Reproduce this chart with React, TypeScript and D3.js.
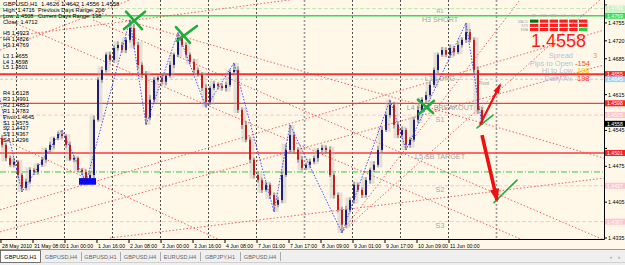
import React from 'react';
import * as d3 from 'd3';

// ---------- DATA (prices in 1/10000 units) ----------
const firstOpen = 14530;
const closes = [
  14517, 14491, 14478, 14484, 14458, 14433,
  14445, 14468, 14464, 14478, 14488, 14507, 14517, 14530, 14538, 14534,
  14517, 14488, 14491, 14468, 14464, 14452, 14458,
  14566, 14644,
  14663, 14693, 14683, 14706, 14712, 14702, 14722, 14745, 14712,
  14673, 14654, 14570, 14605, 14644, 14648, 14640, 14652,
  14673, 14693, 14726, 14712,
  14693, 14679, 14663, 14654, 14628, 14600,
  14628, 14636, 14632, 14628, 14634, 14659, 14663,
  14585, 14556, 14527, 14488, 14458, 14448, 14429, 14439, 14419, 14400, 14409,
  14458, 14507, 14536, 14507,
  14488, 14472, 14478, 14484, 14491, 14507, 14511, 14507,
  14458, 14419, 14390, 14361,
  14390, 14409, 14439, 14429, 14419, 14448,
  14468, 14478, 14507, 14546, 14575, 14595,
  14556, 14536, 14546, 14517, 14527,
  14566, 14585, 14605, 14614, 14634, 14663, 14693, 14702, 14693, 14706, 14698, 14712, 14722, 14737, 14722,
  14663, 14585, 14558,
];
const wickUp = [
  6, 4, 5, 7, 3, 4, 6, 5, 4, 3,
  5, 4, 6, 3, 5, 8, 4, 6, 5, 3,
  4, 5, 6, 8, 5, 7, 4, 6, 5, 7,
  6, 5, 16, 8, 6, 5, 7, 9, 5, 4,
  6, 5, 7, 4, 10, 6, 5, 4, 6, 5,
  5, 7, 4, 6, 3, 5, 6, 5, 14, 7,
  5, 8, 6, 4, 7, 5, 6, 4, 5, 6,
  8, 12, 20, 6, 5, 7, 4, 6, 5, 4,
  6, 5, 7, 4, 5, 6, 8, 5, 6, 4,
  5, 6, 4, 7, 8, 6, 5, 10, 6, 5,
  7, 4, 5, 6, 8, 5, 7, 6, 5, 4,
  6, 5, 7, 4, 6, 5, 18, 6, 5, 7,
  6,
];
const wickDn = [
  5, 6, 4, 5, 7, 8, 5, 4, 6, 5,
  4, 6, 5, 7, 4, 5, 6, 3, 5, 4,
  6, 9, 5, 7, 4, 6, 5, 4, 6, 5,
  4, 6, 5, 7, 8, 6, 14, 5, 6, 4,
  5, 7, 4, 6, 5, 4, 6, 5, 7, 4,
  6, 10, 5, 4, 6, 5, 7, 4, 5, 6,
  8, 5, 6, 7, 5, 6, 4, 8, 14, 5,
  6, 4, 5, 7, 6, 5, 4, 6, 5, 7,
  5, 6, 4, 7, 5, 16, 6, 5, 7, 4,
  6, 5, 7, 4, 5, 6, 4, 5, 7, 6,
  5, 10, 6, 4, 7, 5, 6, 4, 5, 6,
  4, 5, 6, 7, 4, 5, 6, 5, 7, 8,
  2,
];
const zigzagLead: [number, number] = [-2, 14655];
const zigzagPivots: [number, string][] = [
  [5, 'L'], [15, 'H'], [21, 'L'], [32, 'H'], [36, 'L'], [44, 'H'], [51, 'L'], [58, 'H'],
  [68, 'L'], [72, 'H'], [85, 'L'], [97, 'H'], [101, 'L'], [116, 'H'], [120, 'L'],
];
const levelNames = ['R1', 'H3', 'L3', 'Pivot', 'L4', 'S1', 'L5', 'S2', 'S3'];
const levelPrices = [14783, 14769, 14655, 14645, 14598, 14575, 14501, 14437, 14367];
const levelTexts = ['R1', 'H3 SHORT', 'L3 LONG', '', 'L4 HOT BREAKOUT', 'S1', 'L5 SB TARGET', 'S2', 'S3'];
const guidePrice = 14464;
const currentPrice = 14558;
const yTicks = [14790, 14755, 14720, 14685, 14650, 14615, 14580, 14545, 14510, 14475, 14440, 14405, 14370, 14335];
const xTickBars = [0, 8, 16, 24, 32, 40, 48, 56, 64, 72, 80, 88, 96, 104, 112];
const xTickLabels = ['28 May 2010', '31 May 08:00', '1 Jun 00:00', '1 Jun 16:00', '2 Jun 08:00', '3 Jun 00:00', '3 Jun 16:00', '4 Jun 08:00', '7 Jun 01:00', '7 Jun 17:00', '8 Jun 09:00', '9 Jun 01:00', '9 Jun 17:00', '10 Jun 09:00', '11 Jun 00:00'];
const daySeparators = [4, 16, 28, 40, 52, 64, 88, 100, 112];
const periodSeparators = [76, 124];
const trendLines: [number, number, number, number][] = [
  [13.25, 14800, 150.5, 14491],
  [-0.5, 14767, 130.25, 14331],
  [-0.5, 14530, 54.5, 14331],
  [22.75, 14761, 150.5, 14331],
  [27, 14335, 150.5, 14452],
  [-0.5, 14390, 150.5, 14741],
  [-0.5, 14347, 150.5, 14673],
  [84.75, 14345, 149.5, 14800],
  [84.75, 14345, 129.5, 14800],
  [-0.5, 14726, 72, 14800],
  [-0.5, 14702, 32, 14800],
];
const upArrow: [number, number][] = [[119.5, 14556], [124.5, 14634]];
const downArrow: [number, number][] = [[120, 14536], [123.75, 14409]];
const checkMarks: [number, number][][] = [
  [[118.75, 14550], [122.75, 14575]],
  [[123, 14404], [128.75, 14448]],
];
const crossMarks: [number, number][][] = [
  [[31, 14777], [35, 14743]], [[30.5, 14743], [35.75, 14777]],
  [[43.5, 14747], [47, 14716]], [[43.75, 14720], [48.75, 14749]],
  [[104, 14605], [107.75, 14579]], [[104.25, 14577], [108, 14603]],
];
const blueBox = [19.25, 14452, 23.5, 14439];
const tabNames = ['GBPUSD,H1', 'GBPUSD,H4', 'GBPUSD,H1', 'GBPUSD,H4', 'EURUSD,H4', 'GBPJPY,H1', 'GBPUSD,H4'];
const infoLines = [
  'High: 1.4716', 'Low: 1.4508', 'Close: 1.4712', '',
  'H5 1.4923', 'H4 1.4826', 'H3 1.4769', '',
  'L3 1.4655', 'L4 1.4598', 'L5 1.4501',
];
const infoRight = ['Previous Days Range: 206', 'Current Days Range: 198'];
const pivotLines = ['R4 1.5128', 'R3 1.4991', 'R2 1.4853', 'R1 1.4783', 'Pivot 1.4645', 'S1 1.4575', 'S2 1.4437', 'S3 1.4367', 'S4 1.4296'];
const headerText = 'GBPUSD,H1  1.4626 1.4642 1.4556 1.4558';
const gridRows = ['MACD', 'STR', 'EMA'];
const gridCols = ['M5', 'M15', 'M30', 'H1', 'H4', 'D1'];
const gridSignals = [
  [1, -1, -1, -1, -1, -1],
  [-1, -1, -1, -1, -1, -1],
  [-1, -1, -1, -1, -1, 2],
];
const statNames = ['Spread', 'Pips to Open', 'Hi to Low', 'Daily Av.'];
const statValues = ['3', '-154', '198', '198'];

// ---------- STYLES ----------
const BG = '#fff8e8';
const PLOT_R = 604;
const PLOT_B = 239;
const FONT = '"Liberation Sans", Arial, sans-serif';
const levelStyle: Record<string, { color: string; width: number; dash?: string; tagBg: string; tagFg: string }> = {
  R1: { color: '#bfe8b5', width: 1, dash: '4,2', tagBg: '#c9efc0', tagFg: '#ffffff' },
  H3: { color: '#2ee04e', width: 1.6, tagBg: '#33dd55', tagFg: '#ffffff' },
  L3: { color: '#ff3030', width: 2, tagBg: '#ff2020', tagFg: '#ffffff' },
  Pivot: { color: '#a8d4f0', width: 1, dash: '3,2', tagBg: '#a8d4f0', tagFg: '#ffffff' },
  L4: { color: '#ff3a3a', width: 1.2, tagBg: '#ff2020', tagFg: '#ffffff' },
  S1: { color: '#ffc4cc', width: 1, dash: '4,2', tagBg: '#ffc4cc', tagFg: '#ffffff' },
  L5: { color: '#ff3a3a', width: 1.4, tagBg: '#ff2020', tagFg: '#ffffff' },
  S2: { color: '#ffc4cc', width: 1, dash: '4,2', tagBg: '#ffc4cc', tagFg: '#ffffff' },
  S3: { color: '#ffc4cc', width: 1, dash: '4,2', tagBg: '#ffc4cc', tagFg: '#ffffff' },
};

function arrowHead(p0: [number, number], p1: [number, number], len: number, spread: number) {
  const a = Math.atan2(p1[1] - p0[1], p1[0] - p0[0]);
  const l = [p1[0] - len * Math.cos(a - spread), p1[1] - len * Math.sin(a - spread)];
  const r = [p1[0] - len * Math.cos(a + spread), p1[1] - len * Math.sin(a + spread)];
  const tip = [p1[0] + 2 * Math.cos(a), p1[1] + 2 * Math.sin(a)];
  return `M${tip[0]},${tip[1]}L${l[0]},${l[1]}L${r[0]},${r[1]}Z`;
}

export default function App() {
  const x = d3.scaleLinear().domain([0, 120]).range([2, 482]);
  const y = d3.scaleLinear().domain([14335, 14790]).range([238, 5]);
  const bars = closes.map((c, i) => {
    const o = i === 0 ? firstOpen : closes[i - 1];
    return { i, o, c, h: Math.max(o, c) + wickUp[i], l: Math.min(o, c) - wickDn[i] };
  });
  const ghosts = d3.range(0, bars.length, 2).map((s) => {
    const g = bars.slice(s, s + 2);
    return {
      i: s + (g.length - 1) / 2,
      h: d3.max(g, (b) => b.h) as number,
      l: d3.min(g, (b) => b.l) as number,
    };
  });
  const zz: [number, number][] = [zigzagLead, ...zigzagPivots.map(([i, t]) => [i, t === 'H' ? bars[i].h : bars[i].l] as [number, number])];
  const line = d3.line<[number, number]>().x((d) => x(d[0])).y((d) => y(d[1]));
  const fmt = (p: number) => (p / 10000).toFixed(4);
  const px = (d: [number, number]) => [x(d[0]), y(d[1])] as [number, number];

  const upP = upArrow.map(px);
  const dnP = downArrow.map(px);

  const tags = [
    ...levelNames.map((n, k) => ({ p: levelPrices[k], bg: levelStyle[n].tagBg, fg: levelStyle[n].tagFg })),
    { p: currentPrice, bg: '#000000', fg: '#ffffff' },
  ];
  const TAG_H = 6;
  const visibleTicks = yTicks.filter((t) => tags.every((g) => Math.abs(y(g.p) - y(t)) >= TAG_H + 0.5));

  return (
    <svg width={625} height={265} style={{ position: 'absolute', left: 0, top: 0, fontFamily: FONT }}>
      <defs>
        <clipPath id="plot">
          <rect x={0} y={0} width={PLOT_R} height={PLOT_B} />
        </clipPath>
      </defs>
      <rect x={0} y={0} width={625} height={265} fill={BG} />
      <g clipPath="url(#plot)">
        {daySeparators.map((b) => (
          <line key={'d' + b} x1={x(b) - 1.5} x2={x(b) - 1.5} y1={0} y2={PLOT_B} stroke="#222" strokeWidth={0.8} strokeDasharray="2,2" />
        ))}
        {periodSeparators.map((b) => (
          <line key={'p' + b} x1={x(b) - 1.5} x2={x(b) - 1.5} y1={0} y2={PLOT_B} stroke="#999" strokeWidth={1.6} strokeDasharray="2,2" />
        ))}
        {levelNames.map((n, k) => (
          <line key={n} x1={0} x2={PLOT_R} y1={y(levelPrices[k])} y2={y(levelPrices[k])} stroke={levelStyle[n].color} strokeWidth={levelStyle[n].width} strokeDasharray={levelStyle[n].dash} />
        ))}
        <line x1={0} x2={PLOT_R} y1={y(guidePrice)} y2={y(guidePrice)} stroke="#33cc33" strokeWidth={1} strokeDasharray="6,2,1,2" />
        {levelNames.map((n, k) =>
          levelTexts[k] ? (
            <text
              key={'t' + n}
              x={x(109.5)}
              y={y(levelPrices[k]) + (n === 'R1' ? 4.8 : 6.5)}
              textAnchor="middle"
              fontSize={n === 'R1' ? 5.5 : 7.2}
              fill="#a4a4a4"
            >
              {levelTexts[k]}
            </text>
          ) : null
        )}
        <text x={x(119)} y={y(levelPrices[3]) + 5.5} fontSize={5} fill="#999">Pivot</text>
        {trendLines.map((t, k) => (
          <line key={'tl' + k} x1={x(t[0])} y1={y(t[1])} x2={x(t[2])} y2={y(t[3])} stroke="#f04848" strokeWidth={1} strokeDasharray="1.5,2" opacity={0.85} />
        ))}
        {ghosts.map((g) => (
          <rect key={'g' + g.i} x={x(g.i) - 2.5} width={5} y={y(g.h)} height={Math.max(1, y(g.l) - y(g.h))} fill="#b4b4b4" opacity={0.35} />
        ))}
        {bars.map((b) => {
          const up = b.c >= b.o;
          const top = y(Math.max(b.o, b.c));
          const bot = y(Math.min(b.o, b.c));
          return (
            <g key={'c' + b.i}>
              <line x1={x(b.i)} x2={x(b.i)} y1={y(b.h)} y2={y(b.l)} stroke="#707070" strokeWidth={1} />
              <rect x={x(b.i) - 1} width={2} y={top} height={Math.max(1, bot - top)} fill={up ? '#1e1e78' : '#c21e1e'} />
            </g>
          );
        })}
        <path d={line(zz) || ''} fill="none" stroke="#3a3aff" strokeWidth={0.9} strokeDasharray="1.5,1.5" />
        <rect x={x(blueBox[0])} y={y(blueBox[1])} width={x(blueBox[2]) - x(blueBox[0])} height={y(blueBox[3]) - y(blueBox[1])} fill="#0a0af0" />
        {crossMarks.map((s, k) => (
          <path key={'x' + k} d={line(s) || ''} stroke="#1fae3c" strokeWidth={2.6} strokeLinecap="round" fill="none" />
        ))}
        {checkMarks.map((s, k) => (
          <path key={'ck' + k} d={line(s) || ''} stroke="#1fae3c" strokeWidth={1.6} strokeLinecap="round" fill="none" />
        ))}
        <path d={line(upArrow) || ''} stroke="#ee1010" strokeWidth={2.2} fill="none" />
        <path d={arrowHead(upP[0], upP[1], 9, 0.35)} fill="#ee1010" />
        <path d={line(downArrow) || ''} stroke="#ee1010" strokeWidth={3.6} fill="none" />
        <path d={arrowHead(dnP[0], dnP[1], 12, 0.4)} fill="#ee1010" />
      </g>

      <text x={3} y={6} fontSize={6} fill="#000" style={{ whiteSpace: 'pre' }}>{headerText}</text>
      {infoLines.map((t, k) => (
        <text key={'i' + k} x={3} y={12.3 + k * 5.7} fontSize={5.6} fill="#000">{t}</text>
      ))}
      {infoRight.map((t, k) => (
        <text key={'ir' + k} x={38} y={12.3 + k * 5.7} fontSize={5.6} fill="#000">{t}</text>
      ))}
      {pivotLines.map((t, k) => (
        <text key={'pv' + k} x={3} y={95 + k * 5.9} fontSize={5.6} fill="#000">{t}</text>
      ))}

      {gridCols.map((c, j) => (
        <text key={'gc' + c} x={534 + j * 9.8} y={16.5} fontSize={3.4} fill="#aaa" textAnchor="middle">{c}</text>
      ))}
      {gridRows.map((r, i) => (
        <g key={'gr' + r}>
          <text x={528} y={22.5 + i * 4.2} fontSize={3.4} fill="#aaa" textAnchor="end">{r}</text>
          {gridSignals[i].map((s, j) => (
            <rect key={j} x={530 + j * 9.8} y={19.6 + i * 4.2} width={8.4} height={3.1} fill={s === 1 ? '#0a6e14' : s === 2 ? '#22d040' : '#ff1c1c'} />
          ))}
        </g>
      ))}
      <text x={558.5} y={47} fontSize={18} fill="#ff1a1a" textAnchor="middle">{fmt(currentPrice)}</text>
      {statNames.map((n, k) => (
        <text key={'sn' + k} x={573} y={58 + k * 7.7} fontSize={7.5} fill="#b4c2da" textAnchor="end">{n}</text>
      ))}
      {statValues.map((v, k) => (
        <text key={'sv' + k} x={[593, 575, 577, 577][k]} y={58 + k * 7.7} fontSize={7.5} fill={['#ff9a00', '#ff4a10', '#ffc400', '#ff2a2a'][k]}>{v}</text>
      ))}

      <line x1={PLOT_R + 0.5} x2={PLOT_R + 0.5} y1={0} y2={PLOT_B + 0.5} stroke="#000" />
      <line x1={0} x2={PLOT_R + 0.5} y1={PLOT_B + 0.5} y2={PLOT_B + 0.5} stroke="#000" />
      {yTicks.map((t) => (
        <line key={'ytm' + t} x1={PLOT_R} x2={PLOT_R + 3} y1={y(t)} y2={y(t)} stroke="#000" />
      ))}
      {visibleTicks.map((t) => (
        <text key={'yt' + t} x={PLOT_R + 4} y={y(t) + 2} fontSize={5.4} fill="#000">{fmt(t)}</text>
      ))}
      {tags.map((t, k) => (
        <g key={'tag' + k}>
          <rect x={PLOT_R + 1} y={y(t.p) - TAG_H / 2} width={20} height={TAG_H} fill={t.bg} />
          <text x={PLOT_R + 3} y={y(t.p) + 1.9} fontSize={5.2} fill={t.fg}>{fmt(t.p)}</text>
        </g>
      ))}
      {xTickBars.map((b, k) => (
        <g key={'xt' + k}>
          <line x1={x(b) - 1} x2={x(b) - 1} y1={PLOT_B} y2={PLOT_B + 4} stroke="#000" />
          <text x={x(b)} y={247.5} fontSize={5.2} fill="#000">{xTickLabels[k]}</text>
        </g>
      ))}

      <rect x={0} y={249.5} width={625} height={16} fill="#efefef" />
      <line x1={0} x2={625} y1={249.5} y2={249.5} stroke="#9a9a9a" />
      <line x1={0} x2={625} y1={262.5} y2={262.5} stroke="#d0d0d0" />
      <rect x={0.5} y={250.5} width={40} height={12} fill="#ffffff" stroke="#555" strokeWidth={0.8} />
      {tabNames.map((t, k) => {
        const xs = [0, 41, 81, 120, 160, 200, 240, 280];
        return (
          <g key={'tab' + k}>
            <text x={(xs[k] + xs[k + 1]) / 2} y={258.5} fontSize={5.6} fill={k === 0 ? '#000' : '#666'} textAnchor="middle">{t}</text>
            {k > 0 && <line x1={xs[k + 1] + 0.5} x2={xs[k + 1] + 0.5} y1={252} y2={261} stroke="#aaa" />}
          </g>
        );
      })}
      <text x={610} y={259} fontSize={6} fill="#666">‹</text>
      <text x={618} y={259} fontSize={6} fill="#666">›</text>
    </svg>
  );
}
